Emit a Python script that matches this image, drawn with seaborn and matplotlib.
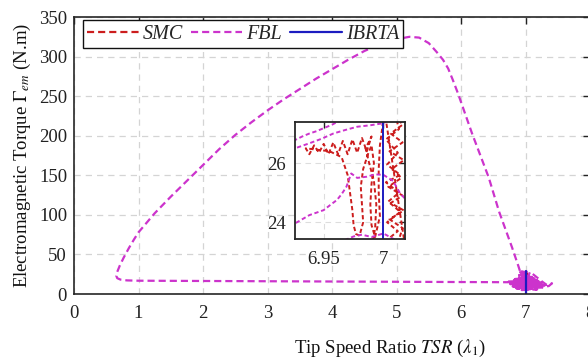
import matplotlib
matplotlib.use("Agg")
import matplotlib.pyplot as plt
import numpy as np
import pandas as pd
import seaborn as sns

# ---------------- data ----------------
series_names = ["SMC", "FBL", "IBRTA"]

smc_tsr = [7.0, 7.03, 6.97, 7.04, 6.98, 7.03, 7.012,
           7.016, 7.005, 7.017, 7.006, 7.016, 7.004, 7.015, 7.007, 7.017, 7.005, 7.016, 7.006, 7.016, 7.01,
           7.013, 7.002, 7.012, 7.003, 7.014, 7.002, 7.013, 7.004, 7.014, 7.003, 7.012, 7.006, 7.015,
           6.99, 6.993, 6.994, 6.992, 6.988, 6.985, 6.99,
           6.986, 6.982, 6.978, 6.974, 6.97, 6.966, 6.962, 6.958, 6.954, 6.95, 6.946, 6.942, 6.938, 6.935,
           6.955, 6.965, 6.97, 6.972, 6.974, 6.975, 6.977, 6.98,
           6.983, 6.982, 6.981, 6.983, 6.987, 6.99,
           6.992, 6.99, 6.989, 6.99, 6.993,
           6.997, 6.996, 6.996, 6.997, 6.999, 7.0,
           7.0, 7.03, 6.97, 7.04, 7.0]
smc_torque = [5.0, 9.0, 13.0, 17.0, 20.0, 22.0, 23.3,
              23.8, 24.1, 24.4, 24.65, 24.9, 25.2, 25.5, 25.8, 26.1, 26.4, 26.7, 27.0, 27.3, 27.6,
              27.15, 26.8, 26.35, 25.95, 25.6, 25.35, 25.0, 24.7, 24.35, 24.0, 23.7, 23.5, 23.2,
              23.1, 23.8, 24.6, 25.4, 26.0, 26.5, 26.9,
              26.4, 26.85, 26.35, 26.8, 26.3, 26.75, 26.3, 26.7, 26.3, 26.65, 26.35, 26.6, 26.3, 26.5,
              26.4, 26.2, 25.6, 25.0, 24.4, 23.9, 23.6, 23.55,
              24.0, 24.6, 25.2, 25.8, 26.3, 26.6,
              26.0, 25.3, 24.6, 23.9, 23.5,
              24.2, 25.0, 25.8, 26.6, 27.2, 27.6,
              28.0, 20.0, 12.0, 7.0, 4.0]

fbl_tsr = [6.95, 7.12, 6.80, 7.18, 6.74, 7.24, 6.76, 7.30, 6.80, 7.26, 6.86, 7.18, 6.94, 7.10, 6.84,
           7.22, 6.78, 7.28, 6.78, 7.20, 6.82, 7.14, 6.88, 7.07, 6.97, 7.05, 6.92, 7.12, 6.90, 7.04,
           6.97, 7.16, 6.90, 7.03,
           6.80, 7.22, 6.84, 7.16, 6.90, 7.20, 6.86, 7.10, 6.93, 7.06, 6.95, 7.09, 6.98, 7.04,
           7.07, 7.16, 7.26, 7.33, 7.41, 7.36, 7.20, 7.00, 6.84, 6.72,
           6.4, 5.5, 4.5, 3.5, 2.5, 1.5, 1.0, 0.82, 0.72, 0.67, 0.655, 0.67, 0.71, 0.77, 0.85, 0.93,
           1.0, 1.25, 1.5, 1.75, 2.0, 2.25, 2.5, 2.75, 3.0, 3.25, 3.5, 3.75, 4.0, 4.25, 4.5, 4.75,
           5.0, 5.2, 5.35, 5.5, 5.62, 5.72, 5.8, 5.87, 5.95, 6.17, 6.43, 6.59, 6.79, 6.89, 6.915,
           6.926, 6.938, 6.948, 6.958, 6.968, 6.978, 6.989, 7.0, 7.01, 7.02,
           6.95, 6.915,
           6.926, 6.932, 6.938, 6.944, 6.95, 6.957, 6.964,
           6.96, 6.905, 6.90,
           6.926, 6.938, 6.95, 6.956, 6.961, 6.965, 6.969, 6.973, 6.978, 6.986, 6.993, 7.0, 7.008,
           7.014, 7.025,
           7.03, 7.01, 7.0, 6.99, 6.982, 6.975, 6.968, 6.962, 6.95,
           7.10, 6.86, 7.15, 6.88, 7.08]
fbl_torque = [22.0, 20.5, 18.8, 17.2, 15.8, 14.2, 12.6, 11.0, 9.6, 8.2, 7.0, 5.8, 5.0, 6.6, 8.6,
              10.2, 11.8, 13.4, 14.8, 16.4, 17.8, 19.4, 20.8, 22.2, 21.0, 18.0, 15.0, 12.0, 9.0, 6.2,
              10.5, 15.0, 19.0, 21.5,
              13.5, 12.4, 10.8, 9.4, 7.8, 14.6, 16.2, 17.6, 19.8, 16.0, 12.5, 10.0, 20.5, 22.5,
              28.0, 22.0, 15.5, 11.4, 13.5, 10.0, 9.0, 12.0, 15.2, 14.9,
              15.0, 15.2, 15.5, 15.8, 16.1, 16.5, 16.8, 17.2, 18.2, 20.0, 23.0, 28.0, 36.0, 46.0, 58.0, 69.0,
              78.0, 102.0, 123.0, 143.0, 163.0, 183.0, 201.0, 217.0, 232.0, 246.0, 259.0, 272.0, 284.0,
              296.0, 307.0, 316.0,
              322.0, 325.0, 324.0, 317.0, 306.0, 296.0, 285.0, 271.0, 254.0, 203.0, 147.0, 104.0, 59.0,
              35.0, 28.5,
              26.5, 26.67, 26.82, 27.0, 27.12, 27.23, 27.28, 27.35, 27.6, 28.2,
              28.6, 27.6,
              26.78, 26.9, 27.0, 27.08, 27.18, 27.3, 27.45,
              28.5, 28.5, 23.4,
              23.96, 24.24, 24.41, 24.6, 24.75, 24.95, 25.2, 25.65, 25.5, 25.54, 25.62, 25.6, 25.4,
              24.97, 24.5,
              22.0, 23.4, 23.62, 23.5, 23.58, 23.52, 23.4, 23.2, 22.5,
              21.5, 19.0, 13.0, 11.0, 8.0]

ibrta_tsr = [7.0, 7.0, 7.0]
ibrta_torque = [0.0, 14.0, 28.5]

x_ticks = [0, 1, 2, 3, 4, 5, 6, 7, 8]
y_ticks = [0, 50, 100, 150, 200, 250, 300, 350]
inset_x_ticks = [6.95, 7.0]
inset_x_labels = ["6.95", "7"]
inset_y_ticks = [24, 26]
inset_y_labels = ["24", "26"]

# ---------------- style ----------------
sns.set_theme(style="white")
plt.rcParams["font.family"] = ["Liberation Serif", "DejaVu Serif"]
plt.rcParams["mathtext.fontset"] = "stix"
FS = 13.5

colors = {"SMC": "#cc1d1d", "FBL": "#cc33cc", "IBRTA": "#1c1cc0"}

df_smc = pd.DataFrame({"tsr": smc_tsr, "torque": smc_torque})
df_fbl = pd.DataFrame({"tsr": fbl_tsr, "torque": fbl_torque})
df_ibr = pd.DataFrame({"tsr": ibrta_tsr, "torque": ibrta_torque})

fig = plt.figure(figsize=(5.88, 3.6), dpi=100)
ax = fig.add_axes([0.1259, 0.1833, 0.8776, 0.7694])


def draw(a, lw, dash, labels=True):
    sns.lineplot(data=df_smc, x="tsr", y="torque", sort=False, estimator=None, ax=a,
                 color=colors["SMC"], lw=lw, linestyle=(0, dash),
                 label=series_names[0] if labels else None)
    sns.lineplot(data=df_fbl, x="tsr", y="torque", sort=False, estimator=None, ax=a,
                 color=colors["FBL"], lw=lw, linestyle=(0, dash),
                 label=series_names[1] if labels else None)
    sns.lineplot(data=df_ibr, x="tsr", y="torque", sort=False, estimator=None, ax=a,
                 color=colors["IBRTA"], lw=lw, linestyle="-",
                 label=series_names[2] if labels else None)


draw(ax, 1.6, (3.2, 1.8))
ax.set_xlim(0, 8)
ax.set_ylim(0, 350)
ax.set_xticks(x_ticks)
ax.set_yticks(y_ticks)
ax.grid(True, color="#d4d4d4", linestyle=(0, (5, 4)), linewidth=0.9)
ax.tick_params(direction="in", top=True, right=True, length=5, width=1.0,
               labelsize=FS, colors="#222222", pad=5)
ax.tick_params(axis="x", pad=8)
for s in ax.spines.values():
    s.set_color("#262626")
    s.set_linewidth(1.2)
ax.set_xlabel(r"Tip Speed Ratio $\mathit{TSR}$ ($\lambda_1$)", fontsize=FS, color="#111111")
ax.set_ylabel(r"Electromagnetic Torque $\mathit{\Gamma}_{em}$ (N.m)", fontsize=FS, color="#111111",
              labelpad=4)
ax.xaxis.set_label_coords(0.612, -0.16)

leg = ax.legend(loc="upper left", bbox_to_anchor=(0.0174, 0.989), borderaxespad=0, ncol=3,
                frameon=True, fancybox=False, framealpha=1, edgecolor="#111111",
                handlelength=2.55, handletextpad=0.2, columnspacing=0.4,
                borderpad=0.22, prop={"family": "Liberation Serif", "style": "italic", "size": 14.5})
leg.get_frame().set_linewidth(1.0)
leg.set_zorder(10)

# ---------------- inset ----------------
axins = fig.add_axes([0.5009, 0.3375, 0.1879, 0.3244])
axins.set_facecolor("white")
draw(axins, 1.4, (2.2, 1.4), labels=False)
axins.set_xlim(6.9256, 7.018)
axins.set_ylim(23.45, 27.4)
axins.set_xticks(inset_x_ticks)
axins.set_xticklabels(inset_x_labels)
axins.set_yticks(inset_y_ticks)
axins.set_yticklabels(inset_y_labels)
axins.set_xlabel("")
axins.set_ylabel("")
axins.grid(True, color="#dddddd", linestyle=(0, (5, 4)), linewidth=0.8)
axins.tick_params(direction="in", top=True, right=True, length=4, width=1.0,
                  labelsize=FS, colors="#222222")
axins.tick_params(axis="x", pad=9)
axins.tick_params(axis="y", pad=6)
for s in axins.spines.values():
    s.set_color("#262626")
    s.set_linewidth(1.3)
if axins.get_legend() is not None:
    axins.get_legend().remove()

fig.savefig("out.png", dpi=100)
